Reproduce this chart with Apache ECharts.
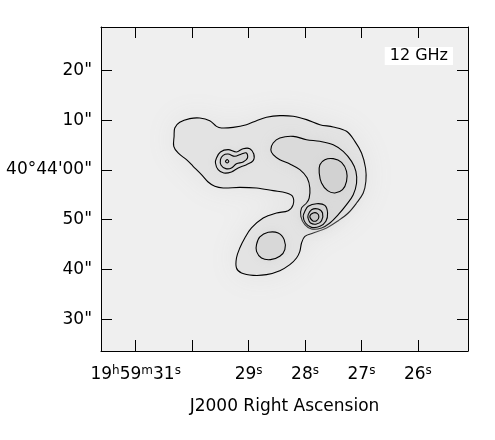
<!DOCTYPE html>
<html>
<head>
<meta charset="utf-8">
<script src="https://cdn.jsdelivr.net/npm/echarts@6/dist/echarts.min.js"></script>
<style>html,body{margin:0;padding:0;background:#fff}#c{width:495px;height:440px}</style>
</head>
<body>
<div id="c"></div>
<script>
// RA in seconds of 19h59m, Dec in arcsec offset from 40d44m00s
var raTicks = [31, 30, 29, 28, 27, 26];
var raLabels = {31: '{n|19}{s|h}{n|59}{s|m}{n|31}{s|s}', 29: '{n|29}{s|s}', 28: '{n|28}{s|s}', 27: '{n|27}{s|s}', 26: '{n|26}{s|s}'};
var decTicks = [-30, -20, -10, 0, 10, 20];
var decLabels = {'-30': '30"', '-20': '40"', '-10': '50"', '0': "40\u00b044'00\"", '10': '10"', '20': '20"'};

var contourOuter = [[30.308,8.45],[30.220,9.59],[30.042,10.33],[29.865,10.46],[29.688,9.92],[29.569,8.78],[29.481,8.45],[29.274,8.58],[29.038,9.12],[28.860,9.92],[28.683,10.60],[28.447,10.93],[28.210,10.80],[27.974,10.13],[27.737,9.12],[27.501,8.65],[27.265,7.78],[27.117,5.77],[26.999,3.42],[26.928,0.40],[26.922,-2.28],[26.969,-4.63],[27.087,-6.64],[27.235,-8.65],[27.412,-10.20],[27.619,-11.67],[27.856,-12.68],[28.003,-13.35],[28.062,-14.69],[28.092,-16.37],[28.151,-17.71],[28.269,-19.05],[28.447,-20.26],[28.683,-21.06],[28.919,-21.20],[29.126,-20.73],[29.215,-19.72],[29.215,-17.71],[29.156,-15.70],[29.067,-13.68],[28.949,-11.67],[28.742,-9.66],[28.506,-8.65],[28.299,-8.18],[28.210,-6.98],[28.222,-5.30],[28.328,-4.63],[28.565,-4.16],[28.860,-3.62],[29.156,-3.49],[29.451,-3.62],[29.599,-3.29],[29.717,-2.42],[29.835,-0.94],[29.983,0.74],[30.101,2.08],[30.249,3.42],[30.326,4.76],[30.320,6.77]];
var contourArc = [[28.565,5.43],[28.447,6.44],[28.210,6.77],[27.974,6.10],[27.737,5.77],[27.501,5.10],[27.324,3.75],[27.176,1.74],[27.099,-0.27],[27.087,-2.62],[27.146,-4.97],[27.265,-6.98],[27.412,-8.99],[27.560,-10.67],[27.708,-11.67],[27.885,-11.87],[28.003,-11.00],[28.074,-9.32],[28.062,-7.65],[27.974,-6.64],[27.927,-5.64],[27.915,-3.62],[27.962,-1.61],[28.092,0.07],[28.269,1.21],[28.447,2.08],[28.565,3.08],[28.606,4.09]];
var contourEast = [[27.737,1.07],[27.649,2.08],[27.501,2.28],[27.353,1.54],[27.265,-0.27],[27.265,-2.28],[27.336,-3.96],[27.471,-4.63],[27.601,-4.16],[27.708,-2.62],[27.749,-0.61]];
var contourSouthA = [[28.003,-8.32],[27.944,-7.31],[27.796,-6.78],[27.649,-7.11],[27.601,-8.65],[27.631,-10.33],[27.737,-11.34],[27.885,-11.54],[27.992,-10.67],[28.033,-9.32]];
var contourSouthB = [[27.944,-8.99],[27.885,-7.98],[27.767,-7.85],[27.690,-8.65],[27.708,-10.20],[27.796,-10.87],[27.903,-10.67],[27.944,-9.79]];
var contourSouthC = [[27.915,-9.32],[27.856,-8.65],[27.785,-8.72],[27.755,-9.46],[27.796,-10.20],[27.867,-10.20]];
var contourWestA = [[29.569,2.41],[29.499,3.62],[29.363,4.09],[29.215,3.62],[29.097,4.29],[28.978,4.29],[28.908,3.22],[28.919,1.88],[29.038,1.07],[29.185,0.40],[29.304,-0.40],[29.439,-0.61],[29.540,0.07],[29.587,1.41]];
var contourWestB = [[29.499,2.08],[29.451,2.95],[29.363,3.22],[29.244,2.75],[29.126,3.22],[29.038,3.42],[29.020,2.41],[29.097,1.61],[29.215,1.27],[29.304,0.40],[29.404,0.27],[29.487,0.94]];
var contourWestC = [[29.410,1.74],[29.380,2.08],[29.351,1.74],[29.380,1.41]];
var contourLobe = [[28.860,-15.03],[28.801,-13.48],[28.653,-12.54],[28.476,-12.68],[28.370,-14.02],[28.358,-16.03],[28.447,-17.37],[28.612,-18.04],[28.772,-17.71],[28.860,-16.37]];

var FONT = 'DejaVu Sans';

function contourSeries(pts, fill, blur) {
  return {
    type: 'custom',
    coordinateSystem: 'cartesian2d',
    xAxisIndex: 0, yAxisIndex: 0,
    data: pts,
    silent: true,
    clip: true,
    renderItem: function (params, api) {
      if (params.dataIndex !== 0) return null;
      var p = pts.map(function (d) { return api.coord(d); });
      return {
        type: 'group',
        children: [
          { type: 'polygon', shape: { points: p, smooth: 0.35 },
            style: { fill: fill, stroke: null, shadowBlur: blur, shadowColor: fill } },
          { type: 'polygon', shape: { points: p, smooth: 0.35 },
            style: { fill: null, stroke: '#000', lineWidth: 1.1 } }
        ]
      };
    }
  };
}

var chart = echarts.init(document.getElementById('c'), null, { renderer: 'canvas' });
var xCommon = { type: 'value', min: 25.113, max: 31.615, inverse: true, splitLine: { show: false },
  axisLine: { show: true, onZero: false, lineStyle: { color: '#000', width: 1 } } };
var yCommon = { type: 'value', min: -36.42, max: 28.77, splitLine: { show: false },
  axisLine: { show: true, onZero: false, lineStyle: { color: '#000', width: 1 } } };

chart.setOption({
  animation: false,
  backgroundColor: '#fff',
  title: {
    text: '12 GHz', right: 42, top: 47,
    backgroundColor: '#fff', padding: [1, 5, 1, 5],
    textStyle: { fontFamily: FONT, fontSize: 16, fontWeight: 'normal', color: '#000' }
  },
  grid: { left: 101, right: 27, top: 27, bottom: 89, show: true, backgroundColor: '#efefef', borderWidth: 0 },
  xAxis: [
    Object.assign({}, xCommon, {
      position: 'bottom',
      name: 'J2000 Right Ascension', nameLocation: 'middle', nameGap: 47,
      nameTextStyle: { fontFamily: FONT, fontSize: 17, color: '#000' },
      axisTick: { show: true, inside: true, length: 11, customValues: raTicks, lineStyle: { color: '#000' } },
      axisLabel: { show: true, margin: 14, customValues: [31, 29, 28, 27, 26],
        formatter: function (v) { return raLabels[Math.round(v)] || ''; },
        rich: {
          n: { fontFamily: FONT, fontSize: 17, color: '#000', lineHeight: 20 },
          s: { fontFamily: FONT, fontSize: 12, color: '#000', lineHeight: 20, padding: [0, 0, 9, 0] }
        } }
    }),
    Object.assign({}, xCommon, {
      position: 'top',
      axisTick: { show: true, inside: true, length: 11, customValues: raTicks, lineStyle: { color: '#000' } },
      axisLabel: { show: false }
    })
  ],
  yAxis: [
    Object.assign({}, yCommon, {
      position: 'left',
      axisTick: { show: true, inside: true, length: 11, customValues: decTicks, lineStyle: { color: '#000' } },
      axisLabel: { show: true, margin: 9, customValues: decTicks, fontFamily: FONT, fontSize: 17, color: '#000',
        formatter: function (v) { return decLabels[String(Math.round(v))] || ''; } }
    }),
    Object.assign({}, yCommon, {
      position: 'right',
      axisTick: { show: true, inside: true, length: 11, customValues: decTicks, lineStyle: { color: '#000' } },
      axisLabel: { show: false }
    })
  ],
  series: [
    contourSeries(contourOuter, '#e3e3e3', 30),
    contourSeries(contourArc, '#dadada', 14),
    contourSeries(contourWestA, '#dcdcdc', 8),
    contourSeries(contourLobe, '#d8d8d8', 10),
    contourSeries(contourEast, '#d2d2d2', 10),
    contourSeries(contourSouthA, '#d4d4d4', 6),
    contourSeries(contourSouthB, '#cccccc', 4),
    contourSeries(contourSouthC, '#c6c6c6', 3),
    contourSeries(contourWestB, '#d6d6d6', 4),
    contourSeries(contourWestC, '#cfcfcf', 2)
  ]
});
</script>
</body>
</html>
